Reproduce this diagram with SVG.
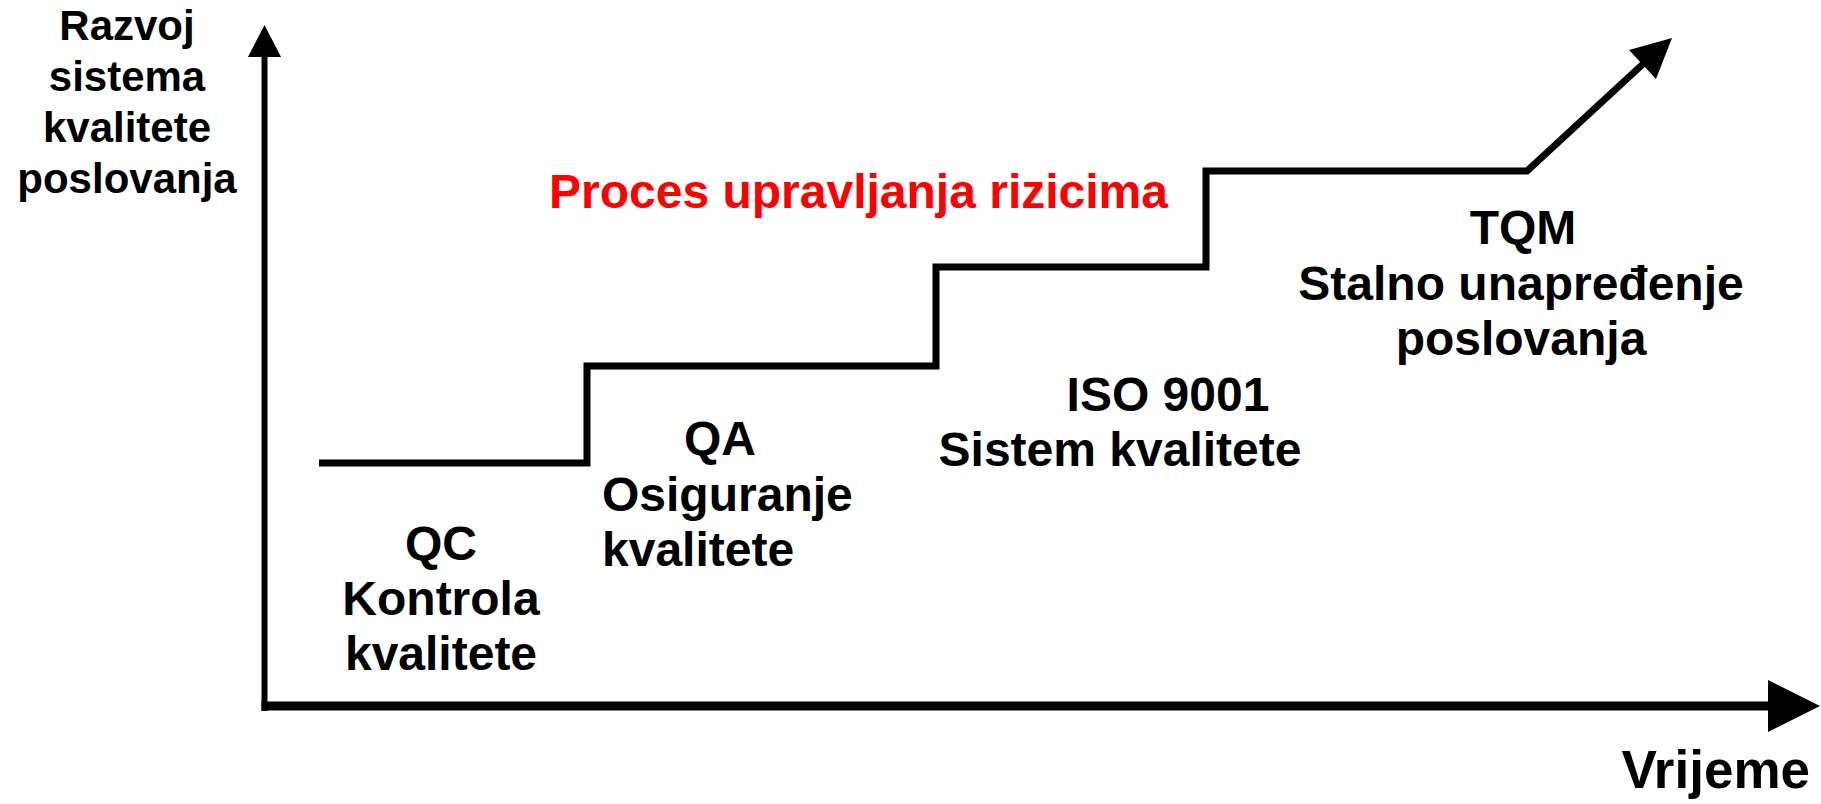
<svg xmlns="http://www.w3.org/2000/svg" width="1821" height="804" viewBox="0 0 1821 804">
<style>
text{font-family:"Liberation Sans",Arial,sans-serif;font-weight:bold;fill:#000}
.c{text-anchor:middle}
.ln{fill:none;stroke:#000;stroke-linejoin:miter;stroke-linecap:butt}
.head{fill:#000}
</style>
<rect width="1821" height="804" fill="#fff"/>
<g id="connectors">
<line class="ln" x1="264.5" y1="711" x2="264.5" y2="56" stroke-width="6"/>
<polygon class="head" points="264.5,25 248,57 281,57"/>
<line class="ln" x1="261.5" y1="706" x2="1770" y2="706" stroke-width="9"/>
<polygon class="head" points="1820,706 1768,680 1768,732"/>
<polyline class="ln" stroke-width="7" points="319,463 587,463 587,366 936,366 936,267 1206,267 1206,171 1527,171 1643,64"/>
<polygon class="head" points="1672,38 1629,50 1656,79"/>
</g>
<g id="y-label">
<text class="c" font-size="42" x="127" y="40">Razvoj</text>
<text class="c" font-size="42" x="127" y="91">sistema</text>
<text class="c" font-size="42" x="127" y="142">kvalitete</text>
<text class="c" font-size="42" x="127" y="193">poslovanja</text>
</g>
<g id="risk-label">
<text font-size="48" x="549" y="208" style="fill:#ff0000">Proces upravljanja rizicima</text>
</g>
<g id="qc">
<text class="c" font-size="48" x="441" y="560">QC</text>
<text class="c" font-size="48" x="441" y="615">Kontrola</text>
<text class="c" font-size="48" x="441" y="670">kvalitete</text>
</g>
<g id="qa">
<text class="c" font-size="48" x="720" y="455">QA</text>
<text font-size="48" x="602" y="511">Osiguranje</text>
<text font-size="48" x="602" y="566">kvalitete</text>
</g>
<g id="iso">
<text class="c" font-size="48" x="1168" y="411">ISO 9001</text>
<text class="c" font-size="48" x="1120" y="466">Sistem kvalitete</text>
</g>
<g id="tqm">
<text class="c" font-size="48" x="1523" y="244">TQM</text>
<text class="c" font-size="48" x="1521" y="300">Stalno unapređenje</text>
<text class="c" font-size="48" x="1521" y="355">poslovanja</text>
</g>
<g id="x-label">
<text font-size="53" x="1810" y="788" style="text-anchor:end">Vrijeme</text>
</g>
</svg>
